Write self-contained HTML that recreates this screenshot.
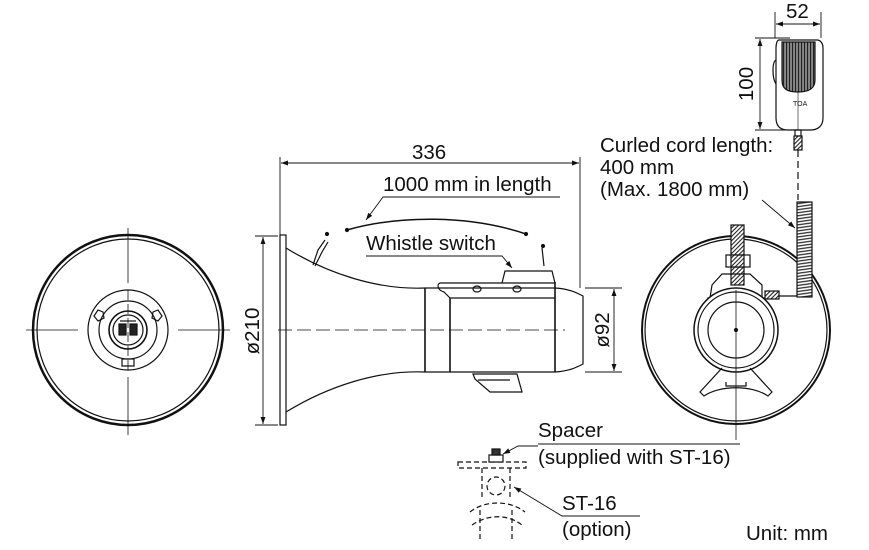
<!DOCTYPE html>
<html><head><meta charset="utf-8"><style>
html,body{margin:0;padding:0;background:#fff;}
svg{display:block;}
text{font-family:"Liberation Sans",Arial,sans-serif;fill:#111;}
</style></head><body>
<svg width="869" height="550" viewBox="0 0 869 550" xmlns="http://www.w3.org/2000/svg">
<defs>
<marker id="a" viewBox="0 0 10 10" refX="10" refY="5" markerWidth="8" markerHeight="8" orient="auto-start-reverse"><path d="M0,1.5 L10,5 L0,8.5 z" fill="#111"/></marker>
<pattern id="h" width="3" height="3" patternUnits="userSpaceOnUse" patternTransform="rotate(45)"><rect width="3" height="3" fill="#fff"/><line x1="0" y1="0" x2="0" y2="3" stroke="#222" stroke-width="2.2"/></pattern>
<pattern id="v" width="3" height="3" patternUnits="userSpaceOnUse"><rect width="3" height="3" fill="#888"/><line x1="0.5" y1="0" x2="0.5" y2="3" stroke="#222" stroke-width="1.2"/></pattern>
<pattern id="c" width="4" height="3" patternUnits="userSpaceOnUse" patternTransform="rotate(-8)"><rect width="4" height="3" fill="#fff"/><line x1="0" y1="0.7" x2="4" y2="0.7" stroke="#222" stroke-width="1.2"/></pattern>
</defs>
<g fill="none" stroke="#111" stroke-width="1.2">
<circle cx="128" cy="330" r="95" stroke-width="2.5"/>
<circle cx="128" cy="330" r="91"/>
<circle cx="128" cy="330" r="40"/>
<circle cx="128" cy="330" r="29"/>
<circle cx="128" cy="330" r="19" stroke-width="1.6"/>
<circle cx="128" cy="330" r="15"/>
<path d="M94,316 l4,-6 l5,2 l1,6 l-6,3 z M162,316 l-4,-6 l-5,2 l-1,6 l6,3 z M122,359 h12 v7 h-12 z"/>
<rect x="119" y="324" width="7" height="11" fill="#222"/><rect x="130" y="324" width="7" height="11" fill="#222"/>
<line x1="120" y1="321" x2="136" y2="321"/>
<g stroke-width="0.8"><line x1="128" y1="228" x2="128" y2="283"/><line x1="128" y1="377" x2="128" y2="435"/><line x1="26" y1="330" x2="78" y2="330"/><line x1="178" y1="330" x2="230" y2="330"/><line x1="128" y1="290" x2="128" y2="370" stroke-dasharray="10,4"/></g>

<rect x="280" y="235" width="6" height="190"/>
<path d="M286,248 C330,275 380,290 425,288 L555,288 M286,412 C330,385 380,370 425,372 L555,372"/>
<line x1="425" y1="288" x2="425" y2="372" stroke-width="1.6"/>
<line x1="450" y1="298" x2="450" y2="372" stroke-width="1.6"/>
<line x1="555" y1="282" x2="555" y2="372" stroke-width="1.6"/>
<path d="M555,288 C570,289 577,293 583,296 L583,364 C577,367 570,371 555,372"/>
<path d="M450,298 L555,298 M440,283 C437,284 437,290 444,292 L450,298 M440,283 L555,283"/>
<path d="M502,283 L505,271 L552,271 L555,283"/>
<ellipse cx="477" cy="289" rx="4" ry="3"/><ellipse cx="517" cy="289" rx="4" ry="3"/>
<path d="M473,374 L475,379 L490,392 L522,392 L517,374 z M478,380 L510,380"/>
<path d="M313,265 L318,250 L325,240 M315,266 L322,252 L328,242"/>
<circle cx="327" cy="234" r="1.5" fill="#111"/>
<path d="M544,266 L542,248" /><circle cx="543" cy="246" r="1.5" fill="#111"/>
<path d="M347,230 C400,215 470,215 526,234" stroke-width="1.5"/>
<circle cx="347" cy="230" r="1.5" fill="#111"/><circle cx="526" cy="234" r="1.5" fill="#111"/>
<line x1="278" y1="330" x2="565" y2="330" stroke-width="0.8" stroke-dasharray="14,5"/>
<line x1="280" y1="157" x2="280" y2="236" stroke-width="0.9"/>
<line x1="580" y1="157" x2="580" y2="288" stroke-width="0.9"/>
<line x1="281" y1="163" x2="579" y2="163" stroke-width="0.9" marker-start="url(#a)" marker-end="url(#a)"/>
<line x1="255" y1="236" x2="278" y2="236" stroke-width="0.9"/>
<line x1="255" y1="425" x2="278" y2="425" stroke-width="0.9"/>
<line x1="263" y1="237" x2="263" y2="424" stroke-width="0.9" marker-start="url(#a)" marker-end="url(#a)"/>
<line x1="585" y1="288" x2="622" y2="288" stroke-width="0.9"/>
<line x1="585" y1="372" x2="622" y2="372" stroke-width="0.9"/>
<line x1="614" y1="289" x2="614" y2="371" stroke-width="0.9" marker-start="url(#a)" marker-end="url(#a)"/>
<path d="M560,197 L383,197 L366,220" stroke-width="0.9" marker-end="url(#a)"/>
<path d="M366,256 L502,256 L512,268" stroke-width="0.9" marker-end="url(#a)"/>

<circle cx="736" cy="330" r="94" stroke-width="2"/>
<circle cx="736" cy="330" r="91"/>
<rect x="731" y="225" width="13" height="60" fill="url(#h)"/>
<rect x="726" y="255" width="24" height="12" fill="#fff"/>
<rect x="731" y="255" width="13" height="12" fill="url(#h)"/>
<path d="M712,285 L722,274 L750,274 L762,285 L762,298 L710,298 z"/>
<path d="M708,298 L764,298 L765,308 L706,308 z"/>
<circle cx="736" cy="330" r="42" stroke-width="1.5" fill="#fff"/>
<circle cx="736" cy="330" r="38"/>
<circle cx="736" cy="330" r="28"/>
<path d="M722,368 L700,392 L704,396 C720,385 752,385 768,396 L772,392 L750,368"/>
<path d="M726,382 L726,386 L746,386 L746,382"/>
<line x1="736" y1="290" x2="736" y2="440" stroke-width="0.8"/>
<circle cx="736" cy="330" r="1.5" fill="#111"/>
<rect x="765" y="291" width="14" height="8" fill="url(#h)"/>
<path d="M779,296 L800,296 C807,296 811,292 811,285"/>
<rect x="797" y="202" width="15" height="95" fill="url(#c)"/>
<line x1="798" y1="150" x2="798" y2="200" stroke-width="1.2" stroke-dasharray="7,4"/>
<path d="M779,40 L817,40 C821,40 823,44 823,48 L823,118 C823,126 818,130 810,130 L788,130 C780,130 776,126 776,118 L776,48 C776,44 777,40 779,40 z"/>
<path d="M782,42 L815,42 L815,80 C815,88 810,92 798,92 C786,92 782,88 782,80 z" fill="url(#v)"/>
<path d="M776,60 C772,62 772,78 776,84"/>
<line x1="798" y1="92" x2="798" y2="130" stroke-width="0.6"/>
<rect x="795" y="130" width="6" height="6"/>
<rect x="794" y="136" width="8" height="14" fill="url(#h)"/>
<line x1="775" y1="12" x2="775" y2="38" stroke-width="0.9"/>
<line x1="821" y1="12" x2="821" y2="38" stroke-width="0.9"/>
<line x1="776" y1="24" x2="820" y2="24" stroke-width="0.9" marker-start="url(#a)" marker-end="url(#a)"/>
<line x1="755" y1="38" x2="790" y2="38" stroke-width="0.9"/>
<line x1="755" y1="130" x2="790" y2="130" stroke-width="0.9"/>
<line x1="760" y1="39" x2="760" y2="129" stroke-width="0.9" marker-start="url(#a)" marker-end="url(#a)"/>
<path d="M762,200 L795,228" stroke-width="0.9" marker-end="url(#a)"/>

<g stroke-dasharray="5,3">
<rect x="458" y="462" width="68" height="6"/>
<path d="M482,468 L482,500 M510,468 L510,500 M480,510 L480,540 M512,510 L512,540"/>
<circle cx="496" cy="486" r="9"/>
<path d="M470,512 C485,500 510,500 525,512 M472,525 C488,514 508,514 522,525"/>
</g>
<rect x="489" y="455" width="14" height="7" fill="#fff"/>
<rect x="492" y="449" width="8" height="6" fill="#333"/>
<path d="M538,446 L518,446 L503,454" stroke-width="0.9" marker-end="url(#a)"/>
<path d="M640,516 L562,516 L514,487" stroke-width="0.9" marker-end="url(#a)"/>
<line x1="538" y1="444" x2="740" y2="444" stroke-width="0.9"/>
</g>
<g font-size="20.5">
<text x="412" y="159">336</text>
<text x="383" y="191">1000 mm in length</text>
<text x="366" y="250">Whistle switch</text>
<text transform="translate(259,331) rotate(-90)" text-anchor="middle">ø210</text>
<text transform="translate(609,330) rotate(-90)" text-anchor="middle">ø92</text>
<text x="786" y="18">52</text>
<text transform="translate(753,84) rotate(-90)" text-anchor="middle">100</text>
<text x="600" y="152">Curled cord length:</text>
<text x="600" y="174">400 mm</text>
<text x="600" y="196">(Max. 1800 mm)</text>
<text x="538" y="437">Spacer</text>
<text x="538" y="464">(supplied with ST-16)</text>
<text x="562" y="510">ST-16</text>
<text x="562" y="536">(option)</text>
<text x="746" y="540">Unit: mm</text>
</g>
<text x="793" y="106" font-size="7">TOA</text>
</svg>
</body></html>
